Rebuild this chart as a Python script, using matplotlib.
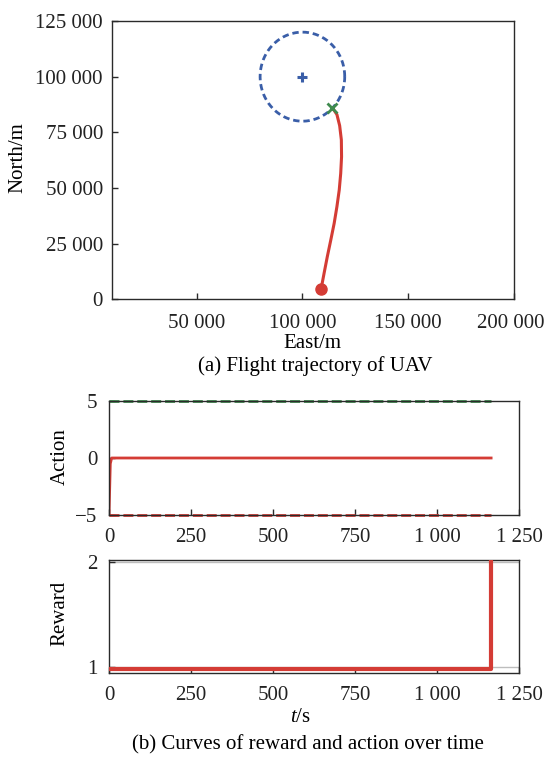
import numpy as np
import matplotlib
matplotlib.use("Agg")
import matplotlib.pyplot as plt
from matplotlib.ticker import FuncFormatter, FixedLocator
from matplotlib.transforms import ScaledTranslation

plt.rcParams['font.family'] = ['Liberation Serif', 'DejaVu Serif']
plt.rcParams['mathtext.fontset'] = 'custom'
plt.rcParams['mathtext.rm'] = 'Liberation Serif'
plt.rcParams['mathtext.it'] = 'Liberation Serif:italic'

# ---- flight trajectory (East/North, metres) ----
traj_east = [108800, 110300, 111750, 113400, 115000, 116300, 117400, 118100,
             118500, 118400, 117600, 116300, 114200]
traj_north = [4500, 12000, 19100, 26600, 34100, 41600, 49100, 56600,
              64100, 71600, 78000, 83000, 86000]
target_center = (100000, 100000)
target_radius = 20000

# ---- action and reward over time ----
act_t = [0, 4, 8, 1165]
act_val = [-5, -0.5, 0, 0]
bound_t = [0, 1165]
upper_bound = [5, 5]
lower_bound = [-5, -5]

rew_t = [0, 1165, 1165]
rew_val = [0.985, 0.985, 2.0]
rew_ref = [1, 2]

east_ticks = [50000, 100000, 150000, 200000]
north_ticks = [0, 25000, 50000, 75000, 100000, 125000]
time_ticks = [0, 250, 500, 750, 1000, 1250]

RED = '#d43c35'
BLUE = '#3a5ea8'
GREEN = '#3f8a4e'
SPINE = '#2a2a2a'
FS = 15


def spaced(v, pos=None):
    return f"{int(round(v)):,}".replace(",", " ")


def style(ax, xpad, ypad):
    for s in ax.spines.values():
        s.set_color(SPINE)
        s.set_linewidth(1.0)
    ax.tick_params(direction='in', length=4, width=1, colors=SPINE,
                   labelcolor='#222222', labelsize=FS)
    ax.tick_params(axis='x', pad=xpad)
    ax.tick_params(axis='y', pad=ypad)


fig = plt.figure(figsize=(5.46, 7.58), dpi=100)
W, H = 546.0, 758.0


def box(l, t, r, b):
    return [l / W, 1 - b / H, (r - l) / W, (b - t) / H]


# ---- (a) trajectory ----
ax1 = fig.add_axes(box(112, 21, 514, 299.3))
style(ax1, xpad=10.5, ypad=6.5)
th = np.linspace(0, 2 * np.pi, 400)
ax1.plot(target_center[0] + target_radius * np.cos(th),
         target_center[1] + target_radius * np.sin(th),
         ls=(0, (2.3, 1.4)), color=BLUE, lw=2.0)
ax1.plot(*target_center, marker='+', color=BLUE, ms=7, mew=2.2)
ax1.plot(traj_east, traj_north, color=RED, lw=2.2, solid_capstyle='round')
ax1.plot(traj_east[0], traj_north[0], 'o', color=RED, ms=8)
ax1.plot(traj_east[-1], traj_north[-1], marker='x', color=GREEN, ms=7, mew=2)
ax1.set_xlim(10000, 200000)
ax1.set_ylim(0, 125000)
ax1.xaxis.set_major_locator(FixedLocator(east_ticks))
ax1.yaxis.set_major_locator(FixedLocator(north_ticks))
ax1.xaxis.set_major_formatter(FuncFormatter(spaced))
ax1.yaxis.set_major_formatter(FuncFormatter(spaced))
last = ax1.xaxis.get_major_ticks()[-1].label1
last.set_transform(last.get_transform() + ScaledTranslation(-3 / 100, 0, fig.dpi_scale_trans))

fig.text(18 / W, 1 - 158 / H, 'North/m', rotation=90, ha='center', va='center', fontsize=FS)
fig.text(312 / W, 1 - 343 / H, 'East/m', ha='center', va='center', fontsize=FS)
fig.text(315 / W, 1 - 366 / H, '(a) Flight trajectory of UAV', ha='center', va='center', fontsize=FS)

# ---- (b) action ----
ax2 = fig.add_axes(box(109, 401, 519, 515))
style(ax2, xpad=9, ypad=8.5)
ax2.plot(bound_t, upper_bound, ls=(0, (3.6, 1.4)), color=GREEN, lw=2.0, clip_on=False)
ax2.plot(bound_t, lower_bound, ls=(0, (3.6, 1.4)), color=RED, lw=2.0, clip_on=False)
ax2.plot(act_t, act_val, color=RED, lw=2.0)
ax2.set_xlim(0, 1250)
ax2.set_ylim(-5, 5)
ax2.set_yticks([-5, 0, 5])
ax2.yaxis.set_major_formatter(FuncFormatter(lambda v, p: f"{int(v)}".replace('-', '\u2212')))
ax2.xaxis.set_major_locator(FixedLocator(time_ticks))
ax2.xaxis.set_major_formatter(FuncFormatter(spaced))
fig.text(60 / W, 1 - 457 / H, 'Action', rotation=90, ha='center', va='center', fontsize=FS)

# ---- (b) reward ----
ax3 = fig.add_axes(box(109, 560, 519, 673.3))
style(ax3, xpad=9.5, ypad=8.5)
for yv in rew_ref:
    ax3.axhline(yv, color='#bdbdbd', lw=1.0, zorder=1)
ax3.plot(rew_t, rew_val, color=RED, lw=3.0, zorder=3)
ax3.set_xlim(0, 1250)
ax3.set_ylim(0.943, 2.016)
ax3.set_yticks([1, 2])
ax3.yaxis.set_major_formatter(FuncFormatter(lambda v, p: f"{int(round(v))}"))
ax3.xaxis.set_major_locator(FixedLocator(time_ticks))
ax3.xaxis.set_major_formatter(FuncFormatter(spaced))
fig.text(60 / W, 1 - 613 / H, 'Reward', rotation=90, ha='center', va='center', fontsize=FS)
fig.text(300 / W, 1 - 717 / H, r'$t$/s', ha='center', va='center', fontsize=FS)
fig.text(308 / W, 1 - 745 / H, '(b) Curves of reward and action over time',
         ha='center', va='center', fontsize=FS)

fig.savefig('out.png', dpi=100)
